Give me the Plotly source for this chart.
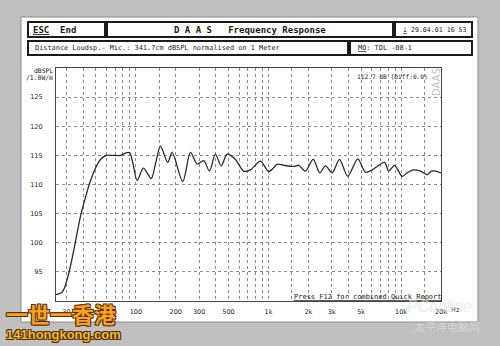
import plotly.graph_objects as go

# ---------------- data ----------------
freq_hz = [25, 27.5, 28.9, 31.0, 33.2, 35.6, 38.2, 41.7, 45.4, 49.6, 54.1, 60.0,
           67.8, 76.5, 83.5, 89.5, 94.3, 102.3, 114.1, 130.4, 140.5, 153.3, 174,
           187.8, 225.8, 258, 290, 325, 359, 398, 440, 488, 564, 651, 731, 870,
           1005, 1096, 1163, 1304, 1551, 1692, 1901, 2174, 2437, 2691, 3023, 3431,
           3963, 4715, 5390, 6054, 7494, 8076, 8917, 10190, 11117, 12408, 14008,
           15731, 16956, 18172, 20000]
spl_db = [91.1, 91.4, 92.2, 94.5, 97.5, 101.0, 104.5, 107.8, 110.6, 112.8, 114.3, 115.0,
          115.0, 115.0, 115.4, 115.5, 114.0, 110.7, 112.8, 111.0, 113.5, 116.6, 113.8,
          115.5, 110.5, 115.5, 113.5, 114.1, 112.3, 115.2, 113.2, 115.2, 114.3, 112.3, 112.5, 114.0,
          112.2, 112.9, 113.5, 113.3, 113.1, 113.3, 112.3, 114.3, 112.0, 113.2, 112.0, 114.3,
          111.4, 114.4, 112.1, 112.5, 113.8, 112.3, 113.3, 111.4, 112.0, 112.5, 112.3,
          111.7, 112.3, 112.3, 112.0]

y_tick_vals = [95, 100, 105, 110, 115, 120, 125]
x_grid_vals = [30, 40, 50, 60, 70, 80, 90, 100, 150, 200, 300, 400, 500, 600, 700, 800, 900,
               1000, 1500, 2000, 3000, 4000, 5000, 6000, 7000, 8000, 9000, 10000, 15000, 20000]
x_label_map = {30: "30", 100: "100", 200: "200", 300: "300", 500: "500",
               1000: "1k", 2000: "2k", 3000: "3k", 5000: "5k", 10000: "10k", 20000: "20k"}
x_tick_text = [x_label_map.get(v, "") for v in x_grid_vals]

# ---------------- layout helpers (pixel -> paper) ----------------
W, H = 500, 346
L, R, T, B = 56, 441, 68, 301


def PX(x):
    return (x - L) / (R - L)


def PY(y):
    return (B - y) / (B - T)


MONO = "DejaVu Sans Mono"
SANS = "DejaVu Sans"

fig = go.Figure()
fig.add_trace(go.Scatter(
    x=freq_hz, y=spl_db, mode="lines",
    line=dict(color="#2a2a2a", width=1.3, shape="spline", smoothing=0.8),
    hoverinfo="skip", showlegend=False))

grid = dict(showgrid=True, gridcolor="#8a8a8a", griddash="dot", gridwidth=1,
            zeroline=False, showline=True, linecolor="#444", linewidth=1.2, mirror=True)

fig.update_layout(
    width=W, height=H,
    margin=dict(l=L, r=W - R, t=T, b=H - B, pad=0),
    paper_bgcolor="#c0c0c0",
    plot_bgcolor="white",
    font=dict(family=SANS, size=6.5, color="#222"),
    xaxis=dict(type="log", range=[1.39794, 4.30103], tickmode="array",
               tickvals=x_grid_vals, ticktext=x_tick_text, ticks="",
               ticklabelstandoff=4, tickfont=dict(family=SANS, size=6.5, color="#222"),
               **grid),
    yaxis=dict(range=[90, 130], tickmode="array", tickvals=y_tick_vals,
               ticktext=[str(v) for v in y_tick_vals], ticks="",
               ticklabelstandoff=11, tickfont=dict(family=SANS, size=6.5, color="#222"),
               **grid),
)

shapes = []
# white window panel
shapes.append(dict(type="rect", xref="paper", yref="paper",
                   x0=PX(21), x1=PX(478), y0=PY(17), y1=PY(322),
                   fillcolor="white", line=dict(color="#8c8c8c", width=1), layer="below"))
# header boxes
for (x0, y0, x1, y1) in [(28, 22, 105, 37), (107, 22, 393, 37), (395, 22, 472, 37),
                         (28, 41, 348, 55), (350, 41, 472, 55)]:
    shapes.append(dict(type="rect", xref="paper", yref="paper",
                       x0=PX(x0), x1=PX(x1), y0=PY(y0), y1=PY(y1),
                       fillcolor="rgba(0,0,0,0)", line=dict(color="#1a1a1a", width=2),
                       layer="above"))
fig.update_layout(shapes=shapes)

ann = []


def txt(text, x, y, size, xanchor="left", family=MONO, color="#1a1a1a", **kw):
    ann.append(dict(text=text, xref="paper", yref="paper", x=PX(x), y=PY(y),
                    xanchor=xanchor, yanchor="middle", showarrow=False,
                    font=dict(family=family, size=size, color=color), **kw))


txt("<b><u>ESC</u>  End</b>", 31, 29.5, 9)
txt("<b>D A A S   Frequency Response</b>", 250, 29.5, 9, xanchor="center")
txt("<u>i</u> 29.04.01 16 53", 401, 29.5, 6.6)
txt("Distance Loudsp.- Mic.: 341.7cm dBSPL normalised on 1 Meter", 33, 48.5, 6.9)
txt("<u>MO</u>: TDL -08-1", 356, 48.5, 6.9)
txt("dBSPL", 55, 70.5, 6.4, xanchor="right")
txt("/1.0W/m", 55, 77.5, 6.4, xanchor="right")
txt("112.7 dB (Diff:0.0)", 355, 76, 6.2)
txt("<u>Press F12 for combined Quick Report</u>", 292, 296.5, 7)
txt("Hz", 449, 309.5, 6.5, family=SANS)
txt("DAAS", 436, 82, 10, xanchor="center", family=SANS, color="#c4c4c4", textangle=-90)

# watermarks
ann.append(dict(text="<b>一世一香港</b>", xref="paper", yref="paper", x=PX(4), y=PY(313),
                xanchor="left", yanchor="middle", showarrow=False,
                font=dict(family="Noto Sans CJK SC", size=22, color="#f6a21c",
                          shadow="1px 1px 0 #5a2a00, -1px -1px 0 #5a2a00, 1px -1px 0 #5a2a00, -1px 1px 0 #5a2a00")))
ann.append(dict(text="<b>141hongkong.com</b>", xref="paper", yref="paper", x=PX(4), y=PY(334),
                xanchor="left", yanchor="middle", showarrow=False,
                font=dict(family="Liberation Sans", size=13, color="#f7bb2a",
                          shadow="1px 1px 0 #4a2a00, -1px -1px 0 #4a2a00, 1px -1px 0 #4a2a00, -1px 1px 0 #4a2a00")))
ann.append(dict(text="<i>PConline</i>", xref="paper", yref="paper", x=PX(405), y=PY(306),
                xanchor="left", yanchor="middle", showarrow=False,
                font=dict(family="Liberation Sans", size=16, color="rgba(255,255,255,0.55)",
                          shadow="0 0 1px rgba(120,120,120,0.5)")))
ann.append(dict(text="太平洋电脑网", xref="paper", yref="paper", x=PX(412), y=PY(326),
                xanchor="left", yanchor="middle", showarrow=False,
                font=dict(family="Noto Sans CJK SC", size=11, color="rgba(255,255,255,0.55)",
                          shadow="0 0 1px rgba(120,120,120,0.5)")))

fig.update_layout(annotations=ann)
fig.write_html("out.html")
